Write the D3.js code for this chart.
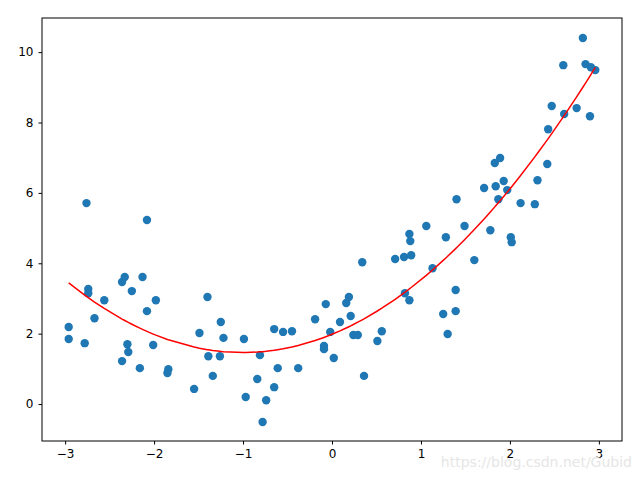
<!DOCTYPE html>
<html><head><meta charset="utf-8">
<script src="https://cdn.jsdelivr.net/npm/d3@7"></script>
<style>body{margin:0;background:#fff}svg{display:block;font-family:"DejaVu Sans",sans-serif}</style>
</head><body><svg width="640" height="480"></svg>
<script>
const xs = [-2.96,-2.96,-2.76,-2.74,-2.74,-2.78,-2.67,-2.56,-2.36,-2.33,-2.25,-2.13,-2.08,-2.08,-1.98,-2.30,-2.29,-2.36,-2.16,-2.01,-1.84,-1.85,-1.55,-1.49,-1.40,-1.39,-1.34,-1.26,-1.25,-1.22,-0.99,-0.97,-0.84,-0.81,-0.78,-0.74,-0.65,-0.65,-0.61,-0.55,-0.45,-0.38,-0.19,-0.09,-0.09,-0.07,-0.02,0.02,0.09,0.16,0.19,0.21,0.24,0.29,0.34,0.36,0.51,0.56,0.71,0.81,0.82,0.87,0.87,0.88,0.89,1.06,1.13,1.25,1.28,1.30,1.39,1.39,1.40,1.49,1.60,1.71,1.78,1.83,1.84,1.89,1.87,1.93,1.97,2.01,2.02,2.12,2.28,2.31,2.42,2.43,2.47,2.60,2.61,2.75,2.82,2.85,2.90,2.91,2.96];
const ys = [2.19,1.85,5.71,3.27,3.15,1.73,2.44,2.95,3.47,3.61,3.21,3.61,5.23,2.64,2.95,1.70,1.48,1.22,1.02,1.68,0.99,0.88,0.43,2.02,3.04,1.36,0.80,1.36,2.33,1.88,1.85,0.20,0.71,1.39,-0.51,0.11,0.48,2.13,1.02,2.05,2.07,1.02,2.41,1.65,1.56,2.84,2.05,1.31,2.33,2.87,3.04,2.50,1.96,1.96,4.03,0.80,1.79,2.07,4.12,4.18,3.15,2.95,4.83,4.63,4.23,5.06,3.86,2.56,4.74,1.99,3.24,2.64,5.82,5.06,4.09,6.14,4.94,6.85,6.19,6.99,5.82,6.34,6.08,4.74,4.60,5.71,5.68,6.36,6.82,7.81,8.47,9.63,8.24,8.41,10.40,9.66,8.18,9.57,9.49];
const xTicks = [-3,-2,-1,0,1,2,3];
const yTicks = [0,2,4,6,8,10];

// quadratic least-squares fit of the points (the red curve)
function fit2(x, y) {
  const S = k => d3.sum(x, v => v ** k);
  const T = k => d3.sum(x, (v, i) => v ** k * y[i]);
  const A = [[S(0),S(1),S(2),T(0)],[S(1),S(2),S(3),T(1)],[S(2),S(3),S(4),T(2)]];
  for (let i = 0; i < 3; i++) for (let j = 0; j < 3; j++) if (j !== i) {
    const f = A[j][i] / A[i][i];
    for (let k = 0; k < 4; k++) A[j][k] -= f * A[i][k];
  }
  return [A[0][3]/A[0][0], A[1][3]/A[1][1], A[2][3]/A[2][2]];
}
const [c0, c1, c2] = fit2(xs, ys);
const sorted = xs.slice().sort(d3.ascending);

const svg = d3.select('svg');
const L = 42, R = 622, T = 18, B = 441;
const x = d3.scaleLinear().domain([-3.26, 3.26]).range([L, R]);
const y = d3.scaleLinear().domain([-1.05, 10.97]).range([B, T]);

svg.selectAll('circle').data(xs).enter().append('circle')
  .attr('cx', d => x(d)).attr('cy', (d, i) => y(ys[i]))
  .attr('r', 4.2).attr('fill', '#1f77b4');

svg.append('path').datum(sorted)
  .attr('d', d3.line().x(d => x(d)).y(d => y(c0 + c1 * d + c2 * d * d)))
  .attr('fill', 'none').attr('stroke', 'red').attr('stroke-width', 1.5);

svg.append('g').attr('transform', `translate(0,${B})`)
  .call(d3.axisBottom(x).tickValues(xTicks).tickSize(3.5).tickPadding(5).tickFormat(d3.format('d')))
  .call(g => g.select('.domain').remove());
svg.append('g').attr('transform', `translate(${L},0)`)
  .call(d3.axisLeft(y).tickValues(yTicks).tickSize(3.5).tickPadding(5).tickFormat(d3.format('d')))
  .call(g => g.select('.domain').remove());
svg.selectAll('.tick text').attr('font-size', 12).attr('fill', '#000').attr('font-family', 'DejaVu Sans');
svg.selectAll('.tick line').attr('stroke', '#000');

svg.append('rect').attr('x', L).attr('y', T).attr('width', R - L).attr('height', B - T)
  .attr('fill', 'none').attr('stroke', '#000').attr('stroke-width', 1);

svg.append('text').attr('x', 632).attr('y', 467).attr('text-anchor', 'end')
  .attr('font-size', 14).attr('fill', '#e6e6e6').text('https://blog.csdn.net/Gubid');
</script></body></html>
